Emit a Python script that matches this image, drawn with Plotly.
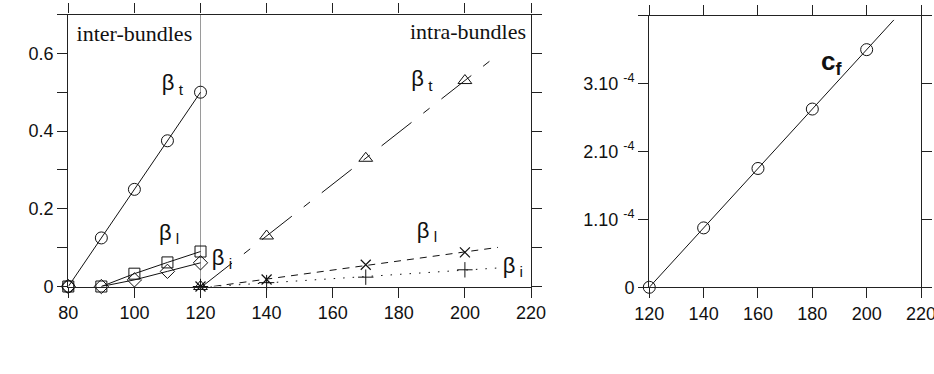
import numpy as np
import plotly.graph_objects as go

# ---- data -------------------------------------------------------------
# (a) damage parameters versus applied stress
stress_inter = [80, 90, 100, 110, 120]
beta_t_inter = [0.0, 0.125, 0.25, 0.375, 0.5]

stress_inter_li = [80, 90, 100, 110, 120]
beta_l_inter = [0.0, 0.0, 0.033, 0.062, 0.09]
beta_i_inter = [0.0, 0.0, 0.017, 0.039, 0.061]

stress_intra = [120, 140, 170, 200]
beta_t_intra = [0.0, 0.13, 0.33, 0.53]
beta_l_intra = [0.0, 0.018, 0.056, 0.088]
beta_i_intra = [0.0, 0.01, 0.024, 0.043]

# stress separating inter- and intra-bundle cracking
regime_boundary = 120

# (b) friction coefficient
stress_cf = [120, 140, 160, 180, 200]
c_f = [0.0, 0.875e-4, 1.75e-4, 2.625e-4, 3.5e-4]

# axis ticks
xrange_a = [80, 220]
yrange_a = [0, 0.7]
xticks_a = [80, 100, 120, 140, 160, 180, 200, 220]
yticks_a = [0, 0.1, 0.2, 0.3, 0.4, 0.5, 0.6, 0.7]
ylabels_a = ["0", "", "0.2", "", "0.4", "", "0.6", ""]
xrange_b = [120, 220]
yrange_b = [0, 4e-4]
xticks_b = [120, 140, 160, 180, 200, 220]
yticks_b = [0, 1e-4, 2e-4, 3e-4, 4e-4]
ylabels_b = ["0", "1.10 <sup>-4</sup>", "2.10 <sup>-4</sup>", "3.10 <sup>-4</sup>", ""]

# curve labels of panel (a): text, stress, value
curve_labels_a = ["β<sub> t</sub>", "β<sub> l</sub>", "β<sub> i</sub>",
                  "β<sub> t</sub>", "β<sub> l</sub>", "β<sub> i</sub>"]
curve_labels_a_x = [111.5, 110.5, 126.5, 187, 188.5, 214.5]
curve_labels_a_y = [0.52, 0.135, 0.07, 0.53, 0.14, 0.05]

SANS = "Arial, Liberation Sans, sans-serif"
SERIF = "Times New Roman, Liberation Serif, serif"
INK = "#111"
W, H = 934, 374


def linfit(x, y, x0, x1):
    """Least-squares straight line evaluated between x0 and x1."""
    k, b = np.polyfit(x, y, 1)
    xs = np.array([x0, x1], dtype=float)
    return xs, k * xs + b


fig = go.Figure()

# thin grey divider between the two cracking regimes (drawn first, under the data)
fig.add_trace(go.Scatter(x=[regime_boundary, regime_boundary], y=yrange_a, mode="lines",
                         line=dict(color="#9a9a9a", width=1), xaxis="x", yaxis="y",
                         hoverinfo="skip", cliponaxis=False))

# inter-bundle series (solid lines through the points)
fig.add_trace(go.Scatter(x=stress_inter, y=beta_t_inter, mode="lines+markers",
                         line=dict(color=INK, width=1),
                         marker=dict(symbol="circle-open", size=12, color=INK, line=dict(width=1)),
                         xaxis="x", yaxis="y", cliponaxis=False))
fig.add_trace(go.Scatter(x=stress_inter_li[1:], y=beta_l_inter[1:], mode="lines",
                         line=dict(color=INK, width=1), xaxis="x", yaxis="y", cliponaxis=False))
fig.add_trace(go.Scatter(x=stress_inter_li[1:], y=beta_i_inter[1:], mode="lines",
                         line=dict(color=INK, width=1), xaxis="x", yaxis="y", cliponaxis=False))
fig.add_trace(go.Scatter(x=stress_inter_li, y=beta_l_inter, mode="markers",
                         marker=dict(symbol="square-open", size=11, color=INK, line=dict(width=1)),
                         xaxis="x", yaxis="y", cliponaxis=False))
fig.add_trace(go.Scatter(x=stress_inter_li, y=beta_i_inter, mode="markers",
                         marker=dict(symbol="diamond-open", size=11, color=INK, line=dict(width=1)),
                         xaxis="x", yaxis="y", cliponaxis=False))

# intra-bundle fitted lines
fx, fy = linfit(stress_intra[1:], beta_t_intra[1:], 120.5, 209)
fig.add_trace(go.Scatter(x=fx, y=fy, mode="lines",
                         line=dict(color=INK, width=1, dash="38px,15px,8px,15px"),
                         xaxis="x", yaxis="y", cliponaxis=False))
fx, fy = linfit(stress_intra[1:], beta_l_intra[1:], 124, 210)
fig.add_trace(go.Scatter(x=fx, y=fy, mode="lines",
                         line=dict(color=INK, width=1, dash="7px,6px"),
                         xaxis="x", yaxis="y", cliponaxis=False))
fx, fy = linfit(stress_intra[1:], beta_i_intra[1:], 123, 210)
fig.add_trace(go.Scatter(x=fx, y=fy, mode="lines",
                         line=dict(color=INK, width=1, dash="1.5px,8px"),
                         xaxis="x", yaxis="y", cliponaxis=False))

# intra-bundle points
fig.add_trace(go.Scatter(x=stress_intra, y=beta_t_intra, mode="markers",
                         marker=dict(symbol="triangle-up-open", size=12, color=INK, line=dict(width=1)),
                         xaxis="x", yaxis="y", cliponaxis=False))
fig.add_trace(go.Scatter(x=stress_intra, y=beta_l_intra, mode="markers",
                         marker=dict(symbol="x-thin-open", size=10, color=INK, line=dict(width=1.2)),
                         xaxis="x", yaxis="y", cliponaxis=False))
fig.add_trace(go.Scatter(x=stress_intra, y=beta_i_intra, mode="markers",
                         marker=dict(symbol="cross-thin-open", size=11, color=INK, line=dict(width=1)),
                         xaxis="x", yaxis="y", cliponaxis=False))

# (b) friction coefficient with its linear fit
fx, fy = linfit(stress_cf, c_f, 120, 210)
fig.add_trace(go.Scatter(x=fx, y=fy, mode="lines", line=dict(color=INK, width=1),
                         xaxis="x2", yaxis="y2", cliponaxis=False))
fig.add_trace(go.Scatter(x=stress_cf, y=c_f, mode="markers",
                         marker=dict(symbol="circle-open", size=12, color=INK, line=dict(width=1)),
                         xaxis="x2", yaxis="y2", cliponaxis=False))


# ---- text labels, placed in axis coordinates ---------------------------
def text(labels, xs, ys, size, family, position="middle center", xaxis="x", yaxis="y"):
    fig.add_trace(go.Scatter(x=xs, y=ys, mode="text", text=labels, textposition=position,
                             textfont=dict(family=family, size=size, color="#111"),
                             xaxis=xaxis, yaxis=yaxis, cliponaxis=False, hoverinfo="skip"))


text(curve_labels_a, curve_labels_a_x, curve_labels_a_y, 22, SANS)
text(["<b>c<sub>f</sub></b>"], [187], [3.3e-4], 26, SANS, xaxis="x2", yaxis="y2")
text(["inter-bundles"], [82.5], [0.645], 22, SERIF, position="middle right")
text(["intra-bundles"], [218.5], [0.652], 22, SERIF, position="middle left")
text(["(a)"], [145.9], [-0.145], 21, SERIF)
text(["Stress (MPa)"], [222], [-0.187], 21, SERIF)
text(["(b)"], [168.1], [-0.8e-4], 21, SERIF, xaxis="x2", yaxis="y2")

axis_common = dict(showline=True, linecolor="#222", linewidth=1.3, mirror="ticks",
                   ticks="outside", ticklen=10, tickcolor="#222", tickwidth=1.4,
                   showgrid=False, zeroline=False, automargin=False,
                   tickfont=dict(family=SANS, size=18, color="#111"))

fig.update_layout(
    width=W, height=H,
    margin=dict(l=0, r=0, t=0, b=0, autoexpand=False),
    paper_bgcolor="white", plot_bgcolor="rgba(0,0,0,0)",
    showlegend=False,
    xaxis=dict(domain=[68.3 / W, 531 / W], range=xrange_a,
               tickvals=xticks_a, anchor="y", **axis_common),
    yaxis=dict(domain=[1 - 286.5 / H, 1 - 14.5 / H], range=yrange_a,
               tickvals=yticks_a, ticktext=ylabels_a, anchor="x", **axis_common),
    xaxis2=dict(domain=[649.3 / W, 921 / W], range=xrange_b,
                tickvals=xticks_b, anchor="y2", ticklabeloverflow="allow", **axis_common),
    yaxis2=dict(domain=[1 - 287.3 / H, 1 - 15.7 / H], range=yrange_b,
                tickvals=yticks_b, ticktext=ylabels_b, anchor="x2", **axis_common),
)

fig.write_html("out.html")
